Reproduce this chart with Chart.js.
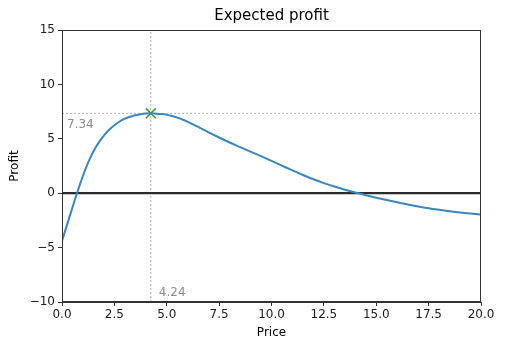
<!DOCTYPE html>
<html>
<head>
<meta charset="utf-8">
<script src="https://cdn.jsdelivr.net/npm/chart.js@4"></script>
<style>
  html, body { margin: 0; padding: 0; background: #fff; }
  #wrap { width: 514px; height: 347px; }
</style>
</head>
<body>
<div id="wrap"><canvas id="myChart" width="514" height="347"></canvas></div>
<script>
// prices and expected profit
const prices = [0, 0.25, 0.5, 0.75, 1, 1.25, 1.5, 1.75, 2, 2.25, 2.5, 2.75, 3, 3.25, 3.5, 3.75, 4, 4.24,
  4.5, 4.75, 5, 5.25, 5.5, 5.75, 6, 6.25, 6.5, 6.75, 7, 7.5, 8, 8.5, 9, 9.5, 10,
  10.5, 11, 11.5, 12, 12.5, 13, 13.5, 14, 14.5, 15, 15.5, 16, 16.5, 17, 17.5, 18, 18.5, 19, 19.5, 20];
const profits = [-4.4, -2.84, -1.3, 0.2, 1.6, 2.83, 3.84, 4.65, 5.3, 5.83, 6.25, 6.59, 6.85, 7.03, 7.16, 7.26, 7.32, 7.34,
  7.31, 7.27, 7.2, 7.09, 6.95, 6.77, 6.56, 6.33, 6.09, 5.85, 5.6, 5.12, 4.66, 4.24, 3.82, 3.4, 2.97,
  2.53, 2.09, 1.67, 1.28, 0.93, 0.61, 0.32, 0.06, -0.18, -0.41, -0.63, -0.84, -1.04, -1.22, -1.38, -1.52, -1.65, -1.77, -1.87, -1.96];

const bestPrice = 4.24;
const bestProfit = 7.34;

const xTicks = [0, 2.5, 5, 7.5, 10, 12.5, 15, 17.5, 20];
const yTicks = [-10, -5, 0, 5, 10, 15];

const title = "Expected profit";
const font = "DejaVu Sans";
const ctx = document.getElementById("myChart");

// title over the axes, box around them and the two grey labels
const extras = {
  id: "extras",
  afterDatasetsDraw(chart) {
    const c = chart.ctx;
    const a = chart.chartArea;
    const x = chart.scales.x;
    const y = chart.scales.y;
    c.save();
    c.fillStyle = "#000";
    c.font = "15px '" + font + "'";
    c.textAlign = "center";
    c.textBaseline = "bottom";
    c.fillText(title, (a.left + a.right) / 2, a.top - 6);

    c.fillStyle = "#8c8c8c";
    c.font = "12px '" + font + "'";
    c.textBaseline = "top";
    c.textAlign = "left";
    c.fillText(bestProfit.toFixed(2), x.getPixelForValue(0) + 5, y.getPixelForValue(bestProfit) + 6);
    c.textBaseline = "bottom";
    c.fillText(bestPrice.toFixed(2), x.getPixelForValue(bestPrice) + 8, y.getPixelForValue(-10) - 3);
    c.strokeStyle = "#333";
    c.lineWidth = 1;
    c.strokeRect(a.left + 0.5, a.top + 0.5, a.right - a.left - 1, a.bottom - a.top - 1);
    c.restore();
  },
};

new Chart(ctx, {
  type: "line",
  data: {
    datasets: [
      {
        data: prices.map((p, i) => ({ x: p, y: profits[i] })),
        borderColor: "#3a87bf",
        borderWidth: 2,
        pointRadius: 0,
        cubicInterpolationMode: "monotone",
      },
      {
        data: [{ x: 0, y: 0 }, { x: 20, y: 0 }],
        borderColor: "#2b2b2b",
        borderWidth: 2.2,
        pointRadius: 0,
      },
      {
        data: [{ x: bestPrice, y: -10 }, { x: bestPrice, y: 15 }],
        borderColor: "#a0a0a0",
        borderWidth: 0.8,
        borderDash: [2, 2],
        pointRadius: 0,
      },
      {
        data: [{ x: 0, y: bestProfit }, { x: 20, y: bestProfit }],
        borderColor: "#a0a0a0",
        borderWidth: 0.8,
        borderDash: [2, 2],
        pointRadius: 0,
      },
      {
        type: "scatter",
        data: [{ x: bestPrice, y: bestProfit }],
        pointStyle: "crossRot",
        pointRadius: 7,
        borderColor: "#2ca02c",
        borderWidth: 1.5,
      },
    ],
  },
  options: {
    responsive: false,
    animation: false,
    layout: { padding: { top: 30, right: 33, bottom: 0, left: 0 } },
    plugins: {
      legend: { display: false },
      tooltip: { enabled: false },
      title: { display: false },
    },
    scales: {
      x: {
        type: "linear",
        min: 0,
        max: 20,
        afterBuildTicks: (s) => { s.ticks = xTicks.map((v) => ({ value: v })); },
        afterFit: (s) => { s.height = 45; },
        ticks: {
          color: "#1a1a1a",
          font: { family: font, size: 12 },
          padding: 2,
          maxRotation: 0,
          callback: (v) => v.toFixed(1),
        },
        grid: { drawOnChartArea: false, tickLength: 4, color: "#333" },
        border: { display: true, color: "#333" },
        title: {
          display: true,
          text: "Price",
          color: "#000",
          font: { family: font, size: 12 },
          padding: { top: 0, bottom: 7 },
        },
      },
      y: {
        min: -10,
        max: 15,
        afterBuildTicks: (s) => { s.ticks = yTicks.map((v) => ({ value: v })); },
        afterFit: (s) => { s.width = 62; },
        ticks: {
          color: "#1a1a1a",
          font: { family: font, size: 12 },
          padding: 3,
          callback: (v) => String(v).replace("-", "\u2212"),
        },
        grid: { drawOnChartArea: false, tickLength: 4, color: "#333" },
        border: { display: true, color: "#333" },
        title: {
          display: true,
          text: "Profit",
          color: "#000",
          font: { family: font, size: 12 },
          padding: { top: 8, bottom: 0 },
        },
      },
    },
  },
  plugins: [extras],
});
</script>
</body>
</html>
